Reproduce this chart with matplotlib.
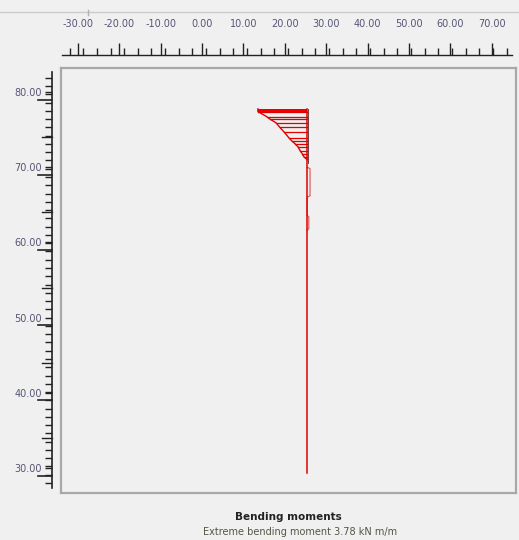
import matplotlib
matplotlib.use("Agg")
import matplotlib.pyplot as plt
from matplotlib.lines import Line2D
import numpy as np

# scale labels
x_labels = [-30, -20, -10, 0, 10, 20, 30, 40, 50, 60, 70]
y_labels = [30, 40, 50, 60, 70, 80]

# wall (structure) position and extent
wall_x = 25.4
wall_top = 77.7
wall_bottom = 29.3

# bending moment diagram: depth and offset from the wall
mom_depth = [77.4, 76.7, 76.4, 75.9, 75.3, 74.7, 73.9, 73.5, 73.1, 72.7, 72.2, 71.8, 71.4, 71.0]
mom_value = [-11.9, -9.7, -9.0, -7.5, -6.6, -5.6, -4.4, -3.7, -2.9, -2.2, -1.7, -1.2, -0.8, 0.0]
# small positive bulges lower down
bulge_depth = [70.0, 69.8, 66.2, 66.0, 63.6, 63.4, 61.8, 61.6]
bulge_value = [0.0, 0.7, 0.7, 0.0, 0.0, 0.4, 0.4, 0.0]

bg = "#f0f0f0"
W, H = 519, 540
narrow = ["Liberation Sans Narrow", "DejaVu Sans"]
fig = plt.figure(figsize=(W / 100, H / 100), dpi=100, facecolor=bg)

def fx(px):
    return px / W

def fy(py):
    return 1 - py / H

# pixel -> data mapping
x0_px, px_per_x = 202, 4.14
y30_px, px_per_y = 468, 7.52

def xval(px):
    return (px - x0_px) / px_per_x

def yval(py):
    return 30 + (y30_px - py) / px_per_y

# main plot frame
ax = fig.add_axes([fx(61), fy(493), fx(516) - fx(61), fy(68) - fy(493)])
ax.set_facecolor(bg)
ax.set_xlim(xval(61), xval(516))
ax.set_ylim(yval(493), yval(68))
ax.set_xticks([])
ax.set_yticks([])
for s in ax.spines.values():
    s.set_color("#a8a8a8")
    s.set_linewidth(1.6)

# moment diagram
mx = [wall_x + m for m in mom_value]
ax.fill_between([wall_x + mom_value[0], wall_x], 77.25, 77.75, color="#ee0000", lw=0)
ax.plot([wall_x + mom_value[0]] + mx, [77.75] + mom_depth, color="#e00000", lw=1.0)
for d, x in zip(mom_depth, mx):
    ax.plot([x, wall_x], [d, d], color="#e00000", lw=0.9)
bx = [wall_x + b for b in bulge_value]
ax.plot(bx, bulge_depth, color="#e05050", lw=0.8)

# wall
ax.plot([wall_x, wall_x], [wall_top, wall_bottom], color="#e00000", lw=1.1)
ax.plot([wall_x + 0.15, wall_x + 0.15], [wall_top, 70.5], color="#602020", lw=0.6)

# top scale
axt = fig.add_axes([fx(62), fy(55), fx(512) - fx(62), 0.0001])
axt.set_facecolor("none")
axt.set_xlim(xval(62), xval(512))
for k in ["left", "right", "bottom"]:
    axt.spines[k].set_visible(False)
axt.spines["top"].set_color("#222222")
axt.spines["top"].set_linewidth(1.0)
axt.set_yticks([])
axt.xaxis.set_ticks_position("top")
axt.set_xticks(x_labels)
axt.set_xticklabels([f"{v:.2f}" for v in x_labels], fontsize=7, color="#555577", family=narrow)
axt.set_xticks(np.arange(-32, 75, 3.3), minor=True)
axt.tick_params(axis="x", which="major", direction="out", length=9, width=1.0, color="#222222", pad=10)
axt.tick_params(axis="x", which="minor", direction="out", length=5, width=1.0, color="#222222")

# left scale
axl = fig.add_axes([fx(52), fy(488), 0.0001, fy(72) - fy(488)])
axl.set_facecolor("none")
axl.set_ylim(yval(488), yval(72))
for k in ["top", "right", "bottom"]:
    axl.spines[k].set_visible(False)
axl.spines["left"].set_color("#222222")
axl.spines["left"].set_linewidth(1.2)
axl.set_xticks([])
axl.set_yticks(y_labels)
axl.set_yticklabels([f"{v:.2f}" for v in y_labels], fontsize=7, color="#555577", family=narrow)
axl.set_yticks(np.arange(28, 83, 1.1), minor=True)
axl.tick_params(axis="y", which="major", direction="out", length=5, width=1.0, color="#222222", pad=2)
axl.tick_params(axis="y", which="minor", direction="out", length=5, width=1.0, color="#222222")
long_ticks = list(range(29, 80, 10))
mid_ticks = list(range(34, 80, 10))
for v in long_ticks:
    fig.add_artist(Line2D([fx(38), fx(52)], [fy(y30_px - (v - 30) * px_per_y)] * 2, color="#222222", lw=1.2))
for v in mid_ticks:
    fig.add_artist(Line2D([fx(42), fx(52)], [fy(y30_px - (v - 30) * px_per_y)] * 2, color="#222222", lw=1.0))

# thin line at the very top
fig.add_artist(Line2D([0, 1], [fy(12), fy(12)], color="#cccccc", lw=1.0))
fig.add_artist(Line2D([fx(88), fx(88)], [fy(10), fy(15)], color="#b0b0b0", lw=1.0))

# caption
fig.text(fx(288), fy(517), "Bending moments", ha="center", va="center", fontsize=7.5,
         fontweight="bold", family=narrow, color="#222222")
fig.text(fx(300), fy(532), "Extreme bending moment 3.78 kN m/m", ha="center", va="center",
         fontsize=7, family=narrow, color="#555544")

fig.savefig("out.png", dpi=100, facecolor=bg)
